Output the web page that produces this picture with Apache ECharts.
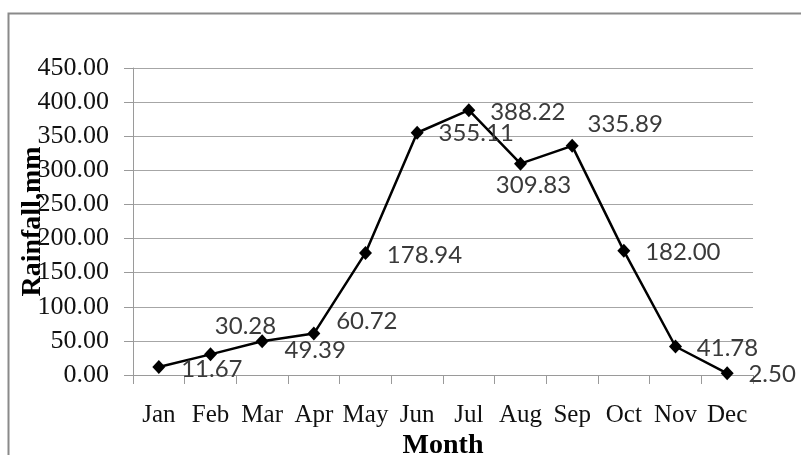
<!DOCTYPE html>
<html>
<head>
<meta charset="utf-8">
<script src="https://cdn.jsdelivr.net/npm/echarts@6/dist/echarts.min.js"></script>
<style>
  html, body { margin: 0; padding: 0; background: #ffffff; }
  #chart { width: 801px; height: 455px; }
</style>
</head>
<body>
<div id="chart"></div>
<script>
// Monthly rainfall (mm)
const months = ['Jan', 'Feb', 'Mar', 'Apr', 'May', 'Jun', 'Jul', 'Aug', 'Sep', 'Oct', 'Nov', 'Dec'];
const rainfall = [11.67, 30.28, 49.39, 60.72, 178.94, 355.11, 388.22, 309.83, 335.89, 182.00, 41.78, 2.50];

// Where each value label sits relative to its marker (px)
const labelOffsets = [
  [53, 2], [35, -28], [53, 9], [53, -12], [59, 2], [59, 1],
  [59, 2], [13, 22], [53, -22], [59, 1], [52, 2], [45, 1]
];

const chart = echarts.init(document.getElementById('chart'), null, { renderer: 'canvas' });

chart.setOption({
  animation: false,
  backgroundColor: '#ffffff',
  graphic: [{
    type: 'rect',
    shape: { x: 8.5, y: 13.5, width: 830, height: 470 },
    style: { fill: 'none', stroke: '#8a8a8a', lineWidth: 2 },
    silent: true
  }],
  grid: {
    left: 133, top: 68, right: 48, bottom: 80,
    containLabel: false,
    outerBoundsMode: 'none'
  },
  xAxis: {
    type: 'category',
    data: months,
    boundaryGap: true,
    name: 'Month',
    nameLocation: 'middle',
    nameGap: 57,
    nameMoveOverlap: false,
    nameTextStyle: { fontFamily: 'Liberation Serif', fontWeight: 'bold', fontSize: 28, color: '#000000' },
    axisLine: { lineStyle: { color: '#9a9a9a', width: 1 } },
    axisTick: { show: true, alignWithLabel: false, length: 9, lineStyle: { color: '#9a9a9a' } },
    axisLabel: { margin: 28, fontFamily: 'Liberation Serif', fontSize: 25, color: '#111111', interval: 0 },
    splitLine: { show: false }
  },
  yAxis: {
    type: 'value',
    min: 0,
    max: 450,
    interval: 50,
    name: 'Rainfall,mm',
    nameLocation: 'middle',
    nameRotate: 90,
    nameGap: 86,
    nameMoveOverlap: false,
    nameTextStyle: { fontFamily: 'Liberation Serif', fontWeight: 'bold', fontSize: 28, color: '#000000' },
    axisLine: { show: true, lineStyle: { color: '#9a9a9a', width: 1 } },
    axisTick: { show: true, length: 9, lineStyle: { color: '#9a9a9a' } },
    axisLabel: {
      margin: 24,
      fontFamily: 'Liberation Serif',
      fontSize: 26,
      color: '#111111',
      formatter: v => v.toFixed(2)
    },
    splitLine: { show: true, lineStyle: { color: '#a6a6a6', width: 1 } }
  },
  series: [{
    type: 'line',
    data: rainfall,
    symbol: 'diamond',
    symbolSize: [13, 14],
    itemStyle: { color: '#000000' },
    lineStyle: { color: '#000000', width: 2.5 },
    label: {
      show: true,
      position: 'inside',
      align: 'center',
      verticalAlign: 'middle',
      fontFamily: 'Lato',
      fontSize: 24,
      color: '#3a3a3a',
      formatter: p => p.value.toFixed(2)
    },
    labelLayout: p => ({
      dx: labelOffsets[p.dataIndex][0],
      dy: labelOffsets[p.dataIndex][1],
      hideOverlap: false
    })
  }]
});
</script>
</body>
</html>
